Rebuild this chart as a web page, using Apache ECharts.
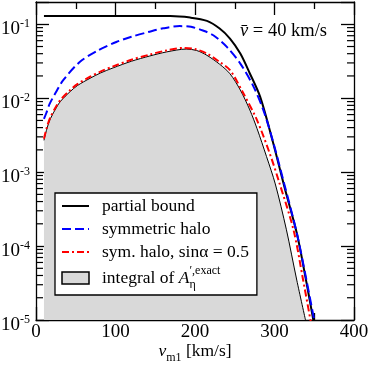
<!DOCTYPE html>
<html><head><meta charset="utf-8">
<script src="https://cdn.jsdelivr.net/npm/echarts@6/dist/echarts.min.js"></script>
<style>html,body{margin:0;padding:0;background:#fff}#c{width:369px;height:366px}</style>
</head><body><div id="c"></div>
<script>
// ---- data ----
const xTickValues = [0, 100, 200, 300, 400];
const yTickExponents = [-5, -4, -3, -2, -1];

const boundV = [10, 60, 120, 169, 194, 215, 231, 244, 257, 269, 282, 298, 313, 328, 340, 350];
const boundY = [0.129, 0.129, 0.129, 0.129, 0.123, 0.111, 0.0875, 0.0641, 0.0402, 0.0216, 0.0104, 0.00255, 0.00060, 0.000150, 0.0000330, 0.0000085];

const symV = [10, 13, 17, 25, 34, 55, 77, 101, 120, 143, 160, 181, 195, 210, 223, 240, 257, 273, 286, 298, 312, 328, 340, 351];
const symY = [0.00525, 0.00631, 0.00832, 0.0120, 0.0174, 0.0309, 0.0437, 0.0575, 0.0676, 0.0794, 0.0881, 0.0944, 0.0923, 0.0822, 0.0710, 0.0494, 0.0294, 0.0148, 0.00689, 0.00263, 0.000708, 0.000151, 0.0000355, 0.0000087];

const sinV = [10, 13.5, 18, 26, 31, 43, 52, 68, 81, 97, 120, 143, 164, 185, 200, 215, 231, 244, 261, 278, 294, 306, 324, 336, 346];
const sinY = [0.00282, 0.00398, 0.0055, 0.00794, 0.00955, 0.0129, 0.0155, 0.0195, 0.0229, 0.0269, 0.0331, 0.0389, 0.0442, 0.0479, 0.0462, 0.0402, 0.0309, 0.0240, 0.01156, 0.00505, 0.00179, 0.000724, 0.000164, 0.0000348, 0.0000090];

const intV = [10, 13.5, 18, 26, 31, 43, 52, 68, 81, 97, 120, 143, 164, 189, 202, 215, 231, 244, 257, 269, 278, 290, 301, 315, 328, 339];
const intY = [0.00269, 0.0038, 0.00525, 0.00759, 0.00912, 0.0123, 0.0148, 0.0186, 0.0219, 0.0257, 0.0316, 0.0372, 0.0422, 0.0462, 0.0442, 0.0380, 0.0288, 0.0214, 0.0129, 0.00692, 0.00389, 0.00162, 0.000692, 0.000166, 0.0000347, 0.0000100];

const seriesNames = ['partial bound', 'symmetric halo', 'sym. halo, sinα = 0.5', 'integral'];
const annotation = '= 40 km/s';

// ---- chart ----
const FONT = '"Liberation Serif", "Times New Roman", serif';
const pairs = (xs, ys) => xs.map((x, i) => [x, ys[i]]);
const yMin = 1e-5, yMax = 0.2;

const minorY = [];
for (let e = -5; e <= -2; e++) for (let m = 2; m <= 9; m++) minorY.push([0, m * Math.pow(10, e)]);

const chart = echarts.init(document.getElementById('c'), null, {renderer: 'canvas'});

const axisCommon = {
  axisLine: {show: true, onZero: false, lineStyle: {color: '#000', width: 1.3}},
  splitLine: {show: false}
};

const yLabelFmt = v => {
  const l = Math.log10(v), e = Math.round(l);
  if (Math.abs(l - e) > 1e-6 || yTickExponents.indexOf(e) < 0) return '';
  return '{b|10}{s|' + e + '}';
};

const SMOOTH = 0.3;

chart.setOption({
  animation: false,
  backgroundColor: '#fff',
  grid: {left: 36, right: 15, top: 2, bottom: 46, containLabel: false, outerBoundsMode: 'none'},
  title: {
    text: '{v|v\u0304} ' + annotation,
    left: 240, top: 22, padding: 0,
    textStyle: {fontFamily: FONT, fontSize: 18.5, fontWeight: 'normal', color: '#000',
      rich: {v: {fontFamily: FONT, fontSize: 18.5, fontStyle: 'italic', color: '#000'}}}
  },
  legend: {
    orient: 'vertical', left: 55, top: 193,
    padding: [3, 8, 4, 6],
    itemWidth: 27, itemHeight: 12, itemGap: 3,
    borderColor: '#000', borderWidth: 1.3, backgroundColor: '#fff',
    selectedMode: false,
    textStyle: {
      fontFamily: FONT, fontSize: 17.5, color: '#000', lineHeight: 20, padding: [0, 0, 0, 8],
      rich: {
        t: {fontFamily: FONT, fontSize: 17.5, lineHeight: 26, color: '#000'},
        i: {fontFamily: FONT, fontSize: 17.5, lineHeight: 26, fontStyle: 'italic', color: '#000'},
        sub: {fontFamily: FONT, fontSize: 12, lineHeight: 10, verticalAlign: 'bottom', width: 0, color: '#000'},
        sup: {fontFamily: FONT, fontSize: 12, lineHeight: 10, verticalAlign: 'top', color: '#000'}
      }
    },
    data: [
      {name: seriesNames[0], itemStyle: {opacity: 0}},
      {name: seriesNames[1], itemStyle: {opacity: 0}},
      {name: seriesNames[2], itemStyle: {opacity: 0}},
      {name: seriesNames[3], icon: 'rect', itemStyle: {color: '#d9d9d9', borderColor: '#000', borderWidth: 1.5, opacity: 1}}
    ],
    formatter: n => n === 'integral' ? '{t|integral of }{i|A}{sub|η}{sup|′,exact}' : n
  },
  xAxis: [
    Object.assign({}, axisCommon, {
      type: 'value', position: 'bottom', min: 0, max: 400, interval: 100,
      axisTick: {show: true, inside: true, length: 13, lineStyle: {color: '#000', width: 1.3}},
      minorTick: {show: true, splitNumber: 2, length: 7, lineStyle: {color: '#000', width: 1.3}},
      axisLabel: {show: true, margin: 3, fontFamily: FONT, fontSize: 19, color: '#000',
        formatter: v => xTickValues.indexOf(v) >= 0 ? String(v) : ''},
      name: '{v|v}{s|m1}{w| [km/s]}', nameLocation: 'middle', nameGap: 18, nameMoveOverlap: false,
      nameTextStyle: {fontFamily: FONT, fontSize: 17.5, color: '#000',
        rich: {
          v: {fontFamily: FONT, fontSize: 17.5, lineHeight: 26, fontStyle: 'italic', color: '#000'},
          s: {fontFamily: FONT, fontSize: 12, lineHeight: 10, verticalAlign: 'bottom', color: '#000'},
          w: {fontFamily: FONT, fontSize: 17.5, lineHeight: 26, color: '#000'}
        }}
    }),
    Object.assign({}, axisCommon, {
      type: 'value', position: 'top', min: 0, max: 400, interval: 100,
      axisTick: {show: true, inside: true, length: 13, lineStyle: {color: '#000', width: 1.3}},
      minorTick: {show: true, splitNumber: 2, length: 7, lineStyle: {color: '#000', width: 1.3}},
      axisLabel: {show: false}
    })
  ],
  yAxis: [
    Object.assign({}, axisCommon, {
      type: 'log', logBase: 10, min: yMin, max: yMax, position: 'left',
      axisTick: {show: true, inside: true, length: 13, lineStyle: {color: '#000', width: 1.3}},
      axisLabel: {show: true, margin: 6, formatter: yLabelFmt, padding: [7, 0, 0, 0],
        rich: {
          b: {fontFamily: FONT, fontSize: 19, lineHeight: 19, padding: [3, 0, 0, 0], color: '#000'},
          s: {fontFamily: FONT, fontSize: 12, lineHeight: 12, verticalAlign: 'top', color: '#000'}
        }}
    }),
    Object.assign({}, axisCommon, {
      type: 'log', logBase: 10, min: yMin, max: yMax, position: 'right',
      axisTick: {show: true, inside: true, length: 13, lineStyle: {color: '#000', width: 1.3}},
      axisLabel: {show: false}
    })
  ],
  series: [
    {
      name: seriesNames[3], type: 'line', data: pairs(intV, intY), symbol: 'none',
      smooth: SMOOTH, z: 1,
      lineStyle: {color: '#000', width: 1},
      itemStyle: {color: '#d9d9d9'},
      areaStyle: {color: '#d9d9d9', opacity: 1, origin: yMin}
    },
    {
      name: seriesNames[2], type: 'line', data: pairs(sinV, sinY), symbol: 'none',
      smooth: SMOOTH, z: 3,
      lineStyle: {color: '#ff0000', width: 2, type: [7, 3, 2, 3]},
      itemStyle: {color: '#ff0000'}
    },
    {
      name: seriesNames[0], type: 'line', data: pairs(boundV, boundY), symbol: 'none',
      smooth: SMOOTH, z: 4,
      lineStyle: {color: '#000', width: 2},
      itemStyle: {color: '#000'}
    },
    {
      name: seriesNames[1], type: 'line', data: pairs(symV, symY), symbol: 'none',
      smooth: SMOOTH, z: 5,
      lineStyle: {color: '#0000ff', width: 2, type: [9, 4]},
      itemStyle: {color: '#0000ff'}
    },
    {
      type: 'custom', data: minorY, silent: true, z: 10, clip: false,
      renderItem: (params, api) => {
        const v = api.value(1);
        const pL = api.coord([0, v]);
        const pR = api.coord([400, v]);
        const st = {stroke: '#000', lineWidth: 1.2};
        return {type: 'group', children: [
          {type: 'line', shape: {x1: pL[0], y1: pL[1], x2: pL[0] + 7, y2: pL[1]}, style: st},
          {type: 'line', shape: {x1: pR[0], y1: pR[1], x2: pR[0] - 7, y2: pR[1]}, style: st}
        ]};
      }
    }
  ]
});
</script>
</body></html>
